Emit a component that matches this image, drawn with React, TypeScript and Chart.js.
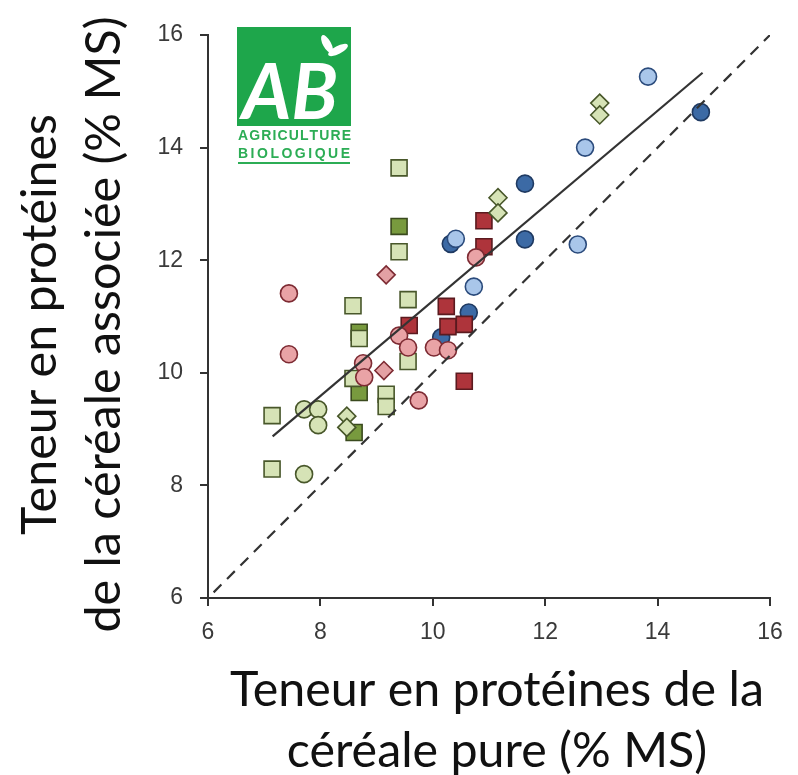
import React, { useEffect, useRef } from 'react';
import { Chart, registerables } from 'chart.js';

Chart.register(...registerables);

// ---------- data ----------
const axisTicks = [6, 8, 10, 12, 14, 16];

const xTitleLines = ['Teneur en protéines de la', 'céréale pure (% MS)'];
const yTitleLines = ['Teneur en protéines', 'de la céréale associée (% MS)'];
const logoWords = ['AB', 'AGRICULTURE', 'BIOLOGIQUE'];

const pinkCircles = [
  [7.44, 11.41], [7.44, 10.33], [10.77, 12.05], [9.4, 10.66], [9.56, 10.45],
  [10.02, 10.45], [10.27, 10.4], [8.76, 10.17], [8.78, 9.92], [9.75, 9.51],
];
const pinkDiamonds = [[9.17, 11.74], [9.13, 10.04]];
const greenDiamonds = [
  [12.97, 14.79], [12.97, 14.58], [11.16, 13.11], [11.16, 12.84], [8.47, 9.23], [8.47, 9.03],
];
const lightBlueCircles = [
  [13.83, 15.26], [12.71, 14.0], [12.58, 12.28], [10.41, 12.38], [10.73, 11.53],
];
const darkRedSquares = [
  [10.91, 12.7], [10.91, 12.24], [10.24, 11.18], [10.56, 10.86], [10.27, 10.82],
  [9.58, 10.84], [10.56, 9.85],
];
const darkBlueCircles = [
  [14.77, 14.63], [11.64, 13.36], [11.64, 12.37], [10.32, 12.29], [10.64, 11.07], [10.15, 10.63],
];
const lightGreenCircles = [[7.71, 9.35], [7.96, 9.35], [7.96, 9.07], [7.71, 8.2]];
const lightGreenSquares = [
  [9.4, 13.64], [9.4, 12.15], [8.58, 11.19], [9.56, 11.3], [8.69, 10.61], [9.56, 10.2],
  [8.58, 9.9], [9.17, 9.62], [9.17, 9.4], [7.14, 9.24], [7.14, 8.29],
];
const darkGreenSquares = [[9.4, 12.6], [8.69, 10.72], [8.69, 9.65], [8.6, 8.94]];

const regressionLine = [[7.15, 8.87], [14.8, 15.33]];
const identityLine = [[6.1, 6.1], [16, 16]];

// ---------- helpers ----------
const pts = (a: number[][]) => a.map(([x, y]) => ({ x, y }));

function markers(label: string, data: number[][], style: string, radius: number, fill: string, stroke: string) {
  return {
    type: 'scatter' as const,
    label,
    data: pts(data),
    pointStyle: style,
    pointRadius: radius,
    pointHoverRadius: radius,
    pointBackgroundColor: fill,
    pointBorderColor: stroke,
    pointBorderWidth: 1.6,
    showLine: false,
  };
}

function lineSet(label: string, data: number[][], dash: number[]) {
  return {
    type: 'line' as const,
    label,
    data: pts(data),
    borderColor: '#333333',
    borderWidth: 2.2,
    borderDash: dash,
    pointRadius: 0,
    fill: false,
    tension: 0,
  };
}

const decorPlugin = {
  id: 'decor',
  afterDraw(chart: any) {
    const { ctx, chartArea } = chart;
    ctx.save();
    // fit title font size to the measured width of the x title's first line
    ctx.font = '100px Lato';
    const w100 = ctx.measureText(xTitleLines[0]).width;
    const size = (100 * 534) / w100;
    ctx.font = `${size}px Lato`;
    ctx.fillStyle = '#111111';
    ctx.textAlign = 'center';
    ctx.textBaseline = 'middle';
    const cx = (chartArea.left + chartArea.right) / 2 + 8;
    ctx.fillText(xTitleLines[0], cx, chartArea.bottom + 92);
    ctx.fillText(xTitleLines[1], cx, chartArea.bottom + 153);

    ctx.save();
    ctx.translate(0, (chartArea.top + chartArea.bottom) / 2 + 8);
    ctx.rotate(-Math.PI / 2);
    ctx.fillText(yTitleLines[0], 0, 40);
    ctx.fillText(yTitleLines[1], 0, 104);
    ctx.restore();

    // AB logo
    const lx = chartArea.left + 29;
    const ly = chartArea.top - 8;
    const lw = 114;
    const lh = 99;
    const green = '#1ea64b';
    ctx.fillStyle = green;
    ctx.fillRect(lx, ly, lw, lh);
    ctx.fillStyle = '#ffffff';
    ctx.font = 'italic bold 76px Lato';
    ctx.textAlign = 'center';
    ctx.textBaseline = 'alphabetic';
    ctx.fillText(logoWords[0], lx + lw / 2 - 4, ly + 92);
    // leaf
    ctx.beginPath();
    ctx.ellipse(lx + 90, ly + 17, 4, 10, -0.5, 0, Math.PI * 2);
    ctx.fill();
    ctx.beginPath();
    ctx.ellipse(lx + 101, ly + 23, 4, 11, 1.1, 0, Math.PI * 2);
    ctx.fill();
    // words
    ctx.fillStyle = '#2cad55';
    ctx.font = 'bold 14px "Liberation Sans"';
    ctx.textAlign = 'left';
    ctx.textBaseline = 'middle';
    const spaced = (txt: string, y: number) => {
      const base = ctx.measureText(txt).width;
      const extra = (lw - 2 - base) / (txt.length - 1);
      let x = lx + 1;
      for (const ch of txt) {
        ctx.fillText(ch, x, y);
        x += ctx.measureText(ch).width + extra;
      }
    };
    spaced(logoWords[1], ly + lh + 10);
    spaced(logoWords[2], ly + lh + 28);
    ctx.fillRect(lx + 1, ly + lh + 36, lw - 2, 2);
    ctx.restore();
  },
};

export default function App() {
  const ref = useRef<HTMLCanvasElement>(null);

  useEffect(() => {
    if (!ref.current) return;
    const tickFont = { family: '"Liberation Sans", Arial, sans-serif', size: 23 };
    const chart = new Chart(ref.current, {
      type: 'scatter',
      data: {
        datasets: [
          lineSet('Régression', regressionLine, []),
          lineSet('1:1', identityLine, [11, 8]),
          markers('pinkCircles', pinkCircles, 'circle', 8.5, '#e9a3a6', '#7d2b33'),
          markers('pinkDiamonds', pinkDiamonds, 'rectRot', 9, '#e3a1a4', '#7d2b33'),
          markers('greenDiamonds', greenDiamonds, 'rectRot', 9, '#d6e3b6', '#48572a'),
          markers('lightBlueCircles', lightBlueCircles, 'circle', 8.5, '#a9c6ea', '#2b4b7c'),
          markers('darkRedSquares', darkRedSquares, 'rect', 11.3, '#ae343b', '#5b1a1f'),
          markers('darkBlueCircles', darkBlueCircles, 'circle', 8.5, '#3c6aa5', '#1f3a62'),
          markers('lightGreenCircles', lightGreenCircles, 'circle', 8.5, '#d6e3b6', '#48572a'),
          markers('lightGreenSquares', lightGreenSquares, 'rect', 11.3, '#d6e3b6', '#48572a'),
          markers('darkGreenSquares', darkGreenSquares, 'rect', 11.3, '#789a3e', '#3a4a1e'),
        ] as any,
      },
      options: {
        animation: false,
        responsive: false,
        devicePixelRatio: 1,
        layout: { padding: { left: 0, top: 35, right: 28, bottom: 0 } },
        plugins: { legend: { display: false }, tooltip: { enabled: false } },
        scales: {
          x: {
            type: 'linear',
            min: axisTicks[0],
            max: axisTicks[axisTicks.length - 1],
            afterBuildTicks: (s: any) => { s.ticks = axisTicks.map((v) => ({ value: v })); },
            afterFit: (s: any) => { s.height = 177; },
            ticks: { font: tickFont, color: '#3a3a3a', padding: 13 },
            grid: { drawOnChartArea: false, drawTicks: true, tickLength: 8, color: '#333333', lineWidth: 2 },
            border: { display: true, color: '#333333', width: 2 },
          },
          y: {
            type: 'linear',
            min: axisTicks[0],
            max: axisTicks[axisTicks.length - 1],
            afterBuildTicks: (s: any) => { s.ticks = axisTicks.map((v) => ({ value: v })); },
            afterFit: (s: any) => { s.width = 208; },
            ticks: { font: tickFont, color: '#3a3a3a', padding: 17 },
            grid: { drawOnChartArea: false, drawTicks: true, tickLength: 8, color: '#333333', lineWidth: 2 },
            border: { display: true, color: '#333333', width: 2 },
          },
        },
      } as any,
      plugins: [decorPlugin],
    });
    return () => chart.destroy();
  }, []);

  return (
    <div style={{ position: 'fixed', left: 0, top: 0, width: 798, height: 775, background: '#ffffff' }}>
      <canvas ref={ref} width={798} height={775} style={{ display: 'block', width: 798, height: 775 }} />
    </div>
  );
}
